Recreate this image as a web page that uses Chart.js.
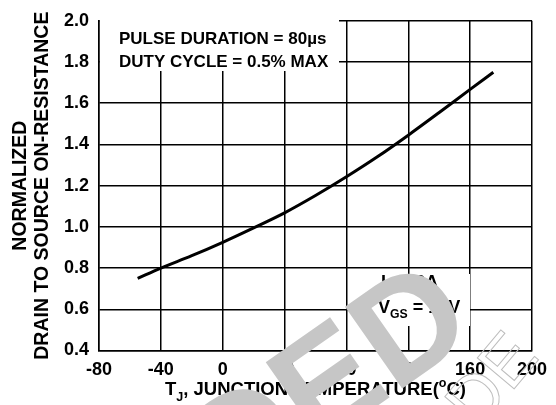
<!DOCTYPE html>
<html>
<head>
<meta charset="utf-8">
<script src="https://cdn.jsdelivr.net/npm/chart.js@4.4.1/dist/chart.umd.min.js"></script>
<style>
  html, body { margin: 0; padding: 0; background: #fff; }
  #wrap { width: 556px; height: 405px; }
</style>
</head>
<body>
<div id="wrap"><canvas id="grafico" width="556" height="405"></canvas></div>
<script>
// --- dados ---
const tempJuncao = [-55, -40, -20, 0, 20, 40, 60, 80, 100, 120, 140, 160, 175];
const rdsNormal = [0.75, 0.80, 0.86, 0.925, 0.995, 1.068, 1.152, 1.243, 1.34, 1.445, 1.555, 1.667, 1.75];

const xMin = -80, xMax = 200, xPasso = 40;
const yMin = 0.4, yMax = 2.0, yPasso = 0.2;

const fonte = '"Liberation Sans", Arial, Helvetica, sans-serif';

// escreve texto com subscrito / sobrescrito
function textoRico(ctx, partes, x, y, tam) {
  let cx = x;
  partes.forEach((p) => {
    const t = p.sub || p.sup ? tam * 0.68 : tam;
    ctx.font = `bold ${t}px ${fonte}`;
    const dy = p.sub ? tam * 0.3 : p.sup ? -tam * 0.42 : 0;
    ctx.fillText(p.t, cx, y + dy);
    cx += ctx.measureText(p.t).width;
  });
  return cx - x;
}
function larguraRica(ctx, partes, tam) {
  let w = 0;
  partes.forEach((p) => {
    const t = p.sub || p.sup ? tam * 0.68 : tam;
    ctx.font = `bold ${t}px ${fonte}`;
    w += ctx.measureText(p.t).width;
  });
  return w;
}

const anotacoes = {
  id: 'anotacoes',
  beforeDatasetsDraw(chart) {
    const ctx = chart.ctx;
    ctx.save();
    // caixas brancas sobre a grade
    ctx.fillStyle = '#fff';
    ctx.fillRect(100, 19, 239, 52);
    ctx.fillRect(372, 274, 98, 52);

    ctx.fillStyle = '#000';
    ctx.textBaseline = 'alphabetic';
    ctx.textAlign = 'left';
    ctx.font = `bold 17px ${fonte}`;
    ctx.fillText('PULSE DURATION = 80\u00b5s', 119, 43.5);
    ctx.fillText('DUTY CYCLE = 0.5% MAX', 119, 67);

    textoRico(ctx, [{ t: 'I' }, { t: 'D', sub: true }, { t: ' = 6A' }], 381, 288, 18);
    textoRico(ctx, [{ t: 'V' }, { t: 'GS', sub: true }, { t: ' = 10V' }], 378, 313, 18);
    ctx.restore();
  },
  afterDraw(chart) {
    const ctx = chart.ctx;
    const area = chart.chartArea;
    ctx.save();
    ctx.fillStyle = '#000';

    // titulo do eixo x
    const partesX = [{ t: 'T' }, { t: 'J', sub: true }, { t: ', JUNCTION TEMPERATURE(' }, { t: 'o', sup: true }, { t: 'C)' }];
    const wx = larguraRica(ctx, partesX, 18.5);
    ctx.textAlign = 'left';
    ctx.textBaseline = 'alphabetic';
    textoRico(ctx, partesX, (area.left + area.right) / 2 - wx / 2, 395, 18.5);

    // titulo do eixo y (duas linhas)
    const cy = (area.top + area.bottom) / 2;
    ctx.font = `bold 19.5px ${fonte}`;
    ctx.textAlign = 'center';
    ctx.textBaseline = 'middle';
    ctx.translate(21, cy);
    ctx.rotate(-Math.PI / 2);
    ctx.fillText('NORMALIZED', 0, 0);
    ctx.fillText('DRAIN TO SOURCE ON-RESISTANCE', 0, 22);
    ctx.restore();

    // marca d'agua
    ctx.save();
    ctx.fillStyle = '#c6c6c6';
    ctx.font = `bold 145px ${fonte}`;
    ctx.textAlign = 'right';
    ctx.textBaseline = 'alphabetic';
    ctx.translate(480, 334);
    ctx.rotate(-35 * Math.PI / 180);
    ctx.fillText('RECOMMENDED', 0, 0);
    ctx.restore();

    ctx.save();
    ctx.strokeStyle = '#bdbdbd';
    ctx.lineWidth = 1;
    ctx.font = `70px ${fonte}`;
    ctx.translate(478, 432);
    ctx.rotate(-50 * Math.PI / 180);
    ctx.strokeText('DE', 0, 0);
    ctx.restore();
  }
};

const ctx = document.getElementById('grafico').getContext('2d');

new Chart(ctx, {
  type: 'line',
  data: {
    datasets: [{
      data: tempJuncao.map((t, i) => ({ x: t, y: rdsNormal[i] })),
      borderColor: '#000',
      borderWidth: 3,
      pointRadius: 0,
      fill: false,
      cubicInterpolationMode: 'monotone',
    }],
  },
  options: {
    responsive: false,
    animation: false,
    layout: { padding: { top: 18, right: 18, left: 0, bottom: 0 } },
    plugins: { legend: { display: false }, tooltip: { enabled: false } },
    scales: {
      x: {
        type: 'linear',
        min: xMin,
        max: xMax,
        afterFit: (s) => { s.height = 54.5; },
        grid: { color: '#000', lineWidth: 1.5, drawTicks: false },
        border: { color: '#000', width: 1.5 },
        ticks: {
          stepSize: xPasso,
          padding: 9,
          color: '#000',
          font: { family: fonte, size: 18, weight: 'bold' },
        },
      },
      y: {
        min: yMin,
        max: yMax,
        afterFit: (s) => { s.width = 99; },
        grid: { color: '#000', lineWidth: 1.5, drawTicks: false },
        border: { color: '#000', width: 1.5 },
        ticks: {
          stepSize: yPasso,
          padding: 10,
          color: '#000',
          font: { family: fonte, size: 18, weight: 'bold' },
          callback: (v) => v.toFixed(1),
        },
      },
    },
  },
  plugins: [anotacoes],
});
</script>
</body>
</html>
